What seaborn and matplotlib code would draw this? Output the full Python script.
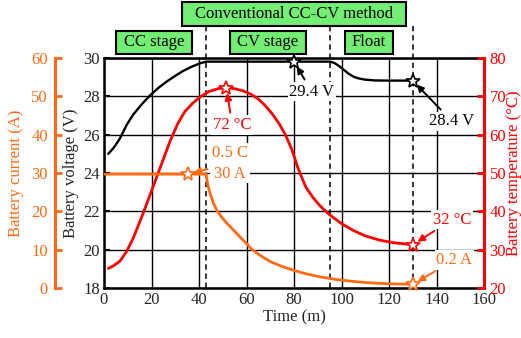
import matplotlib
matplotlib.use("Agg")
import matplotlib.pyplot as plt
import seaborn as sns
import pandas as pd
from matplotlib.patches import Rectangle

# ---------------- data ----------------
volt_t = [1.8, 4, 6.7, 9.5, 12.3, 16, 19.4, 23, 26.4, 30, 33.4, 37, 40.4, 43, 60, 80,
          95.2, 97, 99, 101, 103, 105, 107, 110, 114, 120, 130]
volt_v = [25.0, 25.3, 25.8, 26.5, 27.05, 27.6, 28.05, 28.45, 28.77, 29.07, 29.33, 29.55, 29.72, 29.81, 29.81, 29.81,
          29.81, 29.74, 29.58, 29.38, 29.18, 29.03, 28.94, 28.87, 28.83, 28.82, 28.82]

temp_t = [1.8, 4, 6.7, 9.5, 12.3, 16.5, 20, 23.6, 27.8, 31, 34, 37.5, 40.4, 44, 48, 51.5, 55, 58.7, 62, 65,
          68, 71, 74, 76.5, 79, 81.5, 83.5, 85, 88, 91, 95, 100, 105, 110, 116, 122, 130]
temp_c = [25.1, 25.8, 27.0, 29.5, 33.0, 39.5, 45.3, 51.3, 58.3, 62.8, 66.0, 68.3, 69.8, 71.2, 72.0, 72.3, 72.0, 71.4, 70.5, 69.3,
          67.5, 65.3, 62.6, 59.8, 56.3, 51.6, 48.5, 46.3, 43.6, 41.4, 39.1, 36.8, 35.0, 33.6, 32.5, 31.8, 31.3]

curr_t = [0, 20, 35.5, 43, 43.5, 44.5, 46, 47.5, 49, 51.7, 54.4, 57.3, 60, 62.2, 66, 70, 75, 80, 85, 91, 98, 105, 112, 120, 130]
curr_a = [29.7, 29.7, 29.7, 29.7, 27.5, 25.0, 22.2, 20.3, 18.9, 16.9, 15.2, 13.3, 11.6, 10.1, 8.4, 6.9, 5.6, 4.6, 3.7, 2.9, 2.2, 1.7, 1.35, 1.1, 0.95]

stage_bounds = [43, 95, 130]
x_ticks = [0, 20, 40, 60, 80, 100, 120, 140, 160]
v_ticks = [18, 20, 22, 24, 26, 28, 30]
t_ticks = [20, 30, 40, 50, 60, 70, 80]
i_ticks = [0, 10, 20, 30, 40, 50, 60]

stage_labels = ["CC stage", "CV stage", "Float"]
method_label = "Conventional CC-CV method"

# star markers (t, value) and annotations
v_stars = [(80, 29.81), (130, 28.82)]
v_star_labels = ["29.4 V", "28.4 V"]
t_stars = [(51.5, 72.3), (130, 31.3)]
t_star_labels = ["72 °C", "32 °C"]
i_stars = [(35.5, 29.7), (130, 0.95)]
i_star_labels = ["0.5 C\n30 A", "0.2 A"]

# ---------------- style ----------------
sns.set_theme(style="white")
plt.rcParams["font.family"] = ["Liberation Serif", "DejaVu Serif"]
FS = 12
ORANGE = "#ff6a13"
RED = "#ff0000"
GREEN = "#72ee72"

W, H = 521, 338
PX = 72 / 100  # points per pixel
fig = plt.figure(figsize=(W / 100, H / 100), dpi=100)
L, R, T, B = 104, 484, 58, 288
ax = fig.add_axes([L / W, 1 - B / H, (R - L) / W, (B - T) / H])
axT = ax.twinx()
axI = ax.twinx()

# voltage axis
dfv = pd.DataFrame({"t": volt_t, "v": volt_v})
sns.lineplot(data=dfv, x="t", y="v", ax=ax, color="black", lw=1.7, sort=False)
ax.set_xlim(0, 160)
ax.set_ylim(18, 30)
ax.set_xticks(x_ticks)
ax.set_yticks(v_ticks)
ax.grid(True, color="black", lw=1.0)
ax.set_xlabel("Time (m)", fontsize=FS, labelpad=1)
ax.set_ylabel("Battery voltage (V)", fontsize=FS, labelpad=3)
ax.tick_params(axis="x", direction="in", length=10 * PX, width=2.2, labelsize=FS, pad=3, color="black")
ax.tick_params(axis="y", direction="in", length=6 * PX, width=1.5, labelsize=FS, pad=3, color="black")
for s in ["left", "bottom", "top"]:
    ax.spines[s].set_color("black")
    ax.spines[s].set_linewidth(1.8)
ax.spines["right"].set_visible(False)

# temperature axis
dft = pd.DataFrame({"t": temp_t, "c": temp_c})
sns.lineplot(data=dft, x="t", y="c", ax=axT, color=RED, lw=2.0, sort=False)
axT.set_ylim(20, 80)
axT.set_yticks(t_ticks)
axT.set_ylabel("Battery temperature (°C)", fontsize=FS, color=RED, labelpad=0)
axT.tick_params(axis="y", direction="in", length=7 * PX, width=2, labelsize=FS, colors=RED, pad=4)
for s in ["left", "bottom", "top"]:
    axT.spines[s].set_visible(False)
axT.spines["right"].set_color(RED)
axT.spines["right"].set_linewidth(2.2)
axT.grid(False)

# current axis
dfi = pd.DataFrame({"t": curr_t, "a": curr_a})
sns.lineplot(data=dfi, x="t", y="a", ax=axI, color=ORANGE, lw=2.0, sort=False)
axI.set_ylim(0, 60)
axI.set_yticks(i_ticks)
axI.yaxis.set_ticks_position("left")
axI.yaxis.set_label_position("left")
axI.spines["left"].set_position(("outward", 49 * PX))
axI.spines["left"].set_visible(True)
axI.spines["left"].set_color(ORANGE)
axI.spines["left"].set_linewidth(2.2)
for s in ["right", "bottom", "top"]:
    axI.spines[s].set_visible(False)
axI.set_ylabel("Battery current (A)", fontsize=FS, color=ORANGE, labelpad=5)
axI.tick_params(axis="y", direction="in", length=7 * PX, width=2, labelsize=FS, colors=ORANGE, pad=5)
axI.grid(False)
for a in (ax, axT, axI):
    a.set_xlim(0, 160)

# dashed stage boundaries
ytop = (B - 26) / (B - T)
for xb in stage_bounds:
    ax.axvline(xb, ymin=0, ymax=ytop, color="black", lw=1.1, ls=(0, (3.5, 2.5)), clip_on=False, zorder=3)

# stage boxes (figure pixel positions)
def box(x0, y0, x1, y1, text):
    fig.patches.append(Rectangle((x0 / W, 1 - y1 / H), (x1 - x0) / W, (y1 - y0) / H,
                                 transform=fig.transFigure, facecolor=GREEN,
                                 edgecolor="black", lw=1.5, zorder=5))
    fig.text((x0 + x1) / 2 / W, 1 - (y0 + y1) / 2 / H, text, ha="center", va="center",
             fontsize=FS, color="black", zorder=6)

box(182, 2, 406, 26, method_label)
box(116, 31, 192, 54, stage_labels[0])
box(230, 31, 306, 54, stage_labels[1])
box(345, 31, 393, 54, stage_labels[2])

# stars
def stars(a, pts, color):
    a.plot([p[0] for p in pts], [p[1] for p in pts], ls="none", marker="*", ms=10,
           mfc="white", mec=color, mew=1.2, zorder=6, clip_on=False)

stars(ax, v_stars, "black")
stars(axT, t_stars, RED)
stars(axI, i_stars, ORANGE)

def ann(a, pt, label, txy, color, ls=1.2):
    a.annotate(label, xy=pt, xycoords="data", xytext=txy, textcoords="data",
               ha="center", va="center", fontsize=FS, color=color, zorder=7,
               linespacing=ls,
               bbox=dict(boxstyle="square,pad=0.1", fc="white", ec="none"),
               arrowprops=dict(arrowstyle="-|>", color=color, lw=1.4, mutation_scale=10,
                               shrinkA=2, shrinkB=4))

ann(ax, v_stars[0], v_star_labels[0], (87.5, 28.25), "black")
ann(ax, v_stars[1], v_star_labels[1], (146.5, 26.7), "black")
ann(axT, t_stars[0], t_star_labels[0], (54, 62.5), RED)
ann(axT, t_stars[1], t_star_labels[1], (146.5, 37.8), RED)
ann(axI, i_stars[0], i_star_labels[0], (53, 32.5), ORANGE, ls=1.4)
ann(axI, i_stars[1], i_star_labels[1], (147.5, 7.3), ORANGE)

fig.savefig("out.png", dpi=100)
